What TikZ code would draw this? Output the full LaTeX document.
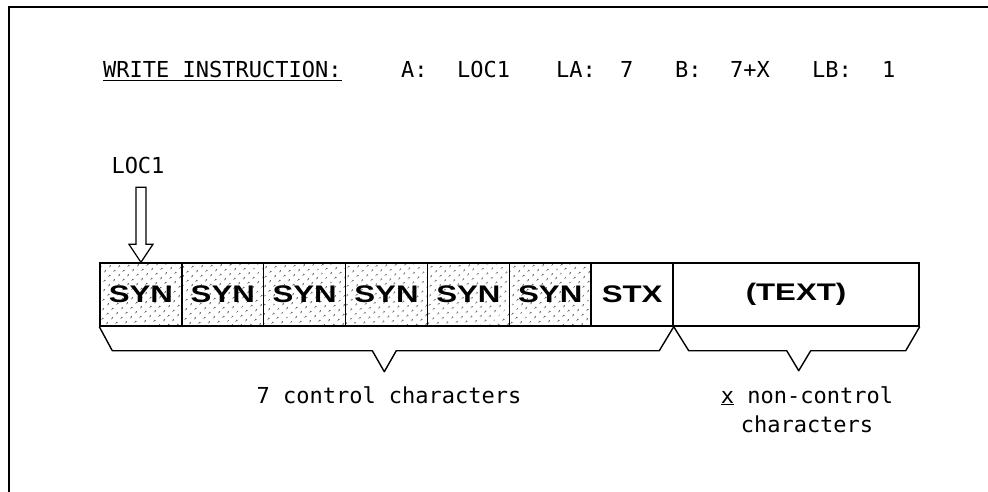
\documentclass[tikz,border=0pt]{standalone}
\usepackage{fontspec}
\usepackage{tikz}
\usetikzlibrary{patterns.meta}
\newfontfamily\typefont{DejaVu Sans Mono}
\newfontfamily\cellfont[FakeStretch=1.3]{Liberation Sans}

\begin{document}
\begin{tikzpicture}[x=1pt, y=-1pt,
    typed/.style={font=\typefont\fontsize{22}{29}\selectfont, inner sep=0pt, anchor=base west},
    cell/.style={draw, line width=1.4pt, minimum width=81.86pt, minimum height=63pt, inner sep=0pt,
      font=\cellfont\bfseries\fontsize{24}{24}\selectfont},
    syn/.style={cell, pattern={Dots[angle=45, distance=6.5pt, radius=0.9pt]}},
    brace/.style={line width=1.4pt, line join=round}]
  \useasboundingbox (0,0) rectangle (988,492);
  \draw[line width=2pt] (988,7) -- (9,7) -- (9,492);

  \node[typed] (write) at (103,78) {\underline{WRITE INSTRUCTION:}};
  \node[typed] (a) at (401,78) {A:};
  \node[typed] (loca) at (457,78) {LOC1};
  \node[typed] (la) at (556,78) {LA:};
  \node[typed] (laval) at (620,78) {7};
  \node[typed] (b) at (675,78) {B:};
  \node[typed] (bval) at (730,78) {7+X};
  \node[typed] (lb) at (812,78) {LB:};
  \node[typed] (lbval) at (882,78) {1};

  \foreach \i in {1,...,6}
    \node[syn] (s\i) at ({100+81.86*(\i-0.5)},294.5) {SYN};
  \node[cell] (stx) at ({100+81.86*6.5},294.5) {STX};
  \node[cell, minimum width=246pt] (txt) at (796,294.5) {(TEXT)};

  \node[typed, anchor=base] (loc) at (138,174) {LOC1};
  \draw[line width=1.2pt, line join=miter, fill=white]
    (s1.north) -- ++(-12,-18) -- ++(7,0) -- ++(0,-57) -- ++(10,0) -- ++(0,57) -- ++(7,0) -- cycle;

  \draw[brace] (s1.south west) -- ++(13,24) -- ++(260,0) -- ++(12,21) -- ++(12,-21) -- ++(263,0) -- (stx.south east);
  \draw[brace] (stx.south east) -- ++(15,24) -- ++(98,0) -- ++(12,20) -- ++(12,-20) -- ++(95,0) -- (txt.south east);

  \node[typed, anchor=base] (ctl) at (389,403) {7 control characters};
  \node[typed, anchor=base, align=center] (nonctl) at (807,432) {\underline{x} non-control\\characters};
\end{tikzpicture}
\end{document}
